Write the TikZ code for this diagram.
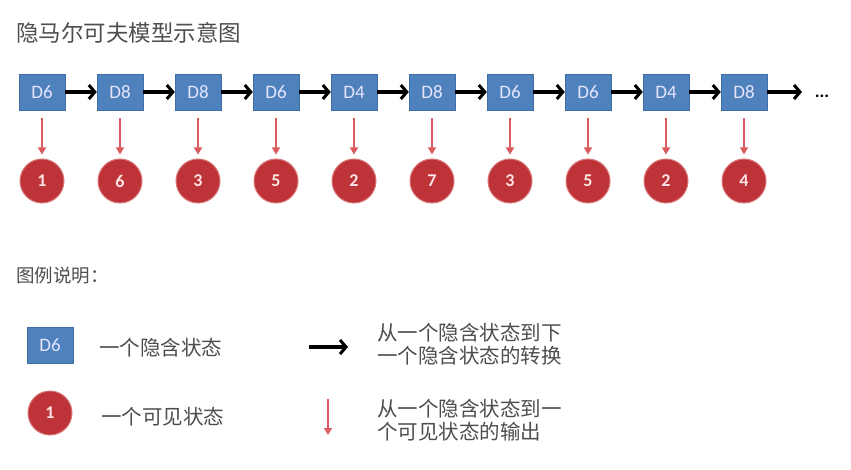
\documentclass[tikz,border=0pt]{standalone}
\usepackage{fontspec}
\setmainfont{Carlito}
\newfontfamily\cjk{Noto Sans CJK SC}
\usetikzlibrary{arrows.meta}
\definecolor{stateblue}{HTML}{4F81BD}
\definecolor{stateedge}{HTML}{3F6DA6}
\definecolor{obsred}{HTML}{BE3338}
\definecolor{obsedge}{HTML}{D77778}
\definecolor{emitred}{HTML}{DA5C5E}
\definecolor{textgray}{HTML}{4E4E4E}

\begin{document}
\begin{tikzpicture}[x=1pt,y=-1pt,node distance=78pt,
hidden/.style={draw=stateedge,fill=stateblue,minimum width=46pt,minimum height=36pt,inner sep=0pt,text=white!90!blue,font=\fontsize{19}{19}\selectfont},
visible/.style={circle,draw=obsedge,line width=1pt,fill=obsred,minimum size=44pt,inner sep=0pt,text=white!90!red,font=\bfseries\fontsize{18}{18}\selectfont},
trans/.style={-{Straight Barb[length=6pt,width=14pt,line width=3pt]},line width=3.6pt,black},
emit/.style={-{Triangle[length=7pt,width=8pt]},line width=1.5pt,emitred},
caption/.style={text=textgray,font=\cjk\fontsize{20.5}{23}\selectfont,align=left,inner sep=0pt}]
\useasboundingbox (0,0) rectangle (851,470);
\node[caption,anchor=west,font=\cjk\fontsize{22.5}{24}\selectfont] (title) at (16,33) {隐马尔可夫模型示意图};
% hidden chain
\node[hidden] (h1) at (42,92) {D6};
\node[hidden] (h2) [right of=h1] {D8};
\node[hidden] (h3) [right of=h2] {D8};
\node[hidden] (h4) [right of=h3] {D6};
\node[hidden] (h5) [right of=h4] {D4};
\node[hidden] (h6) [right of=h5] {D8};
\node[hidden] (h7) [right of=h6] {D6};
\node[hidden] (h8) [right of=h7] {D6};
\node[hidden] (h9) [right of=h8] {D4};
\node[hidden] (h10) [right of=h9] {D8};
\coordinate (more) at (802,92);
\node[font=\bfseries\fontsize{18}{18}\selectfont,inner sep=0pt] (dots) at (822,96) {...};
% observations
\node[visible] (o1) [below of=h1,yshift=-11pt] {1};
\node[visible] (o2) [below of=h2,yshift=-11pt] {6};
\node[visible] (o3) [below of=h3,yshift=-11pt] {3};
\node[visible] (o4) [below of=h4,yshift=-11pt] {5};
\node[visible] (o5) [below of=h5,yshift=-11pt] {2};
\node[visible] (o6) [below of=h6,yshift=-11pt] {7};
\node[visible] (o7) [below of=h7,yshift=-11pt] {3};
\node[visible] (o8) [below of=h8,yshift=-11pt] {5};
\node[visible] (o9) [below of=h9,yshift=-11pt] {2};
\node[visible] (o10) [below of=h10,yshift=-11pt] {4};
\draw[trans] (h1) -- (h2); \draw[trans] (h2) -- (h3); \draw[trans] (h3) -- (h4);
\draw[trans] (h4) -- (h5); \draw[trans] (h5) -- (h6); \draw[trans] (h6) -- (h7);
\draw[trans] (h7) -- (h8); \draw[trans] (h8) -- (h9); \draw[trans] (h9) -- (h10);
\draw[trans] (h10) -- (more);
\draw[emit] ([yshift=-8pt]h1.south) -- ([yshift=4pt]o1.north);
\draw[emit] ([yshift=-8pt]h2.south) -- ([yshift=4pt]o2.north);
\draw[emit] ([yshift=-8pt]h3.south) -- ([yshift=4pt]o3.north);
\draw[emit] ([yshift=-8pt]h4.south) -- ([yshift=4pt]o4.north);
\draw[emit] ([yshift=-8pt]h5.south) -- ([yshift=4pt]o5.north);
\draw[emit] ([yshift=-8pt]h6.south) -- ([yshift=4pt]o6.north);
\draw[emit] ([yshift=-8pt]h7.south) -- ([yshift=4pt]o7.north);
\draw[emit] ([yshift=-8pt]h8.south) -- ([yshift=4pt]o8.north);
\draw[emit] ([yshift=-8pt]h9.south) -- ([yshift=4pt]o9.north);
\draw[emit] ([yshift=-8pt]h10.south) -- ([yshift=4pt]o10.north);
% legend
\node[caption,anchor=west,font=\cjk\fontsize{18.5}{20}\selectfont] (legend) at (16,276) {图例说明：};
\node[hidden] (keyh) at (50,345) {D6};
\node[caption,anchor=west] (keyhtext) at (99,348) {一个隐含状态};
\node[visible] (keyo) at (50,413) {1};
\node[caption,anchor=west] (keyotext) at (101,417) {一个可见状态};
\coordinate (transa) at (309,347);
\coordinate (transb) at (348,347);
\draw[trans] (transa) -- (transb);
\node[caption,anchor=west] (transtext) at (377,344) {从一个隐含状态到下\\一个隐含状态的转换};
\coordinate (emita) at (328,399);
\coordinate (emitb) at (328,435);
\draw[emit] (emita) -- (emitb);
\node[caption,anchor=west] (emittext) at (377,420) {从一个隐含状态到一\\个可见状态的输出};
\end{tikzpicture}
\end{document}
